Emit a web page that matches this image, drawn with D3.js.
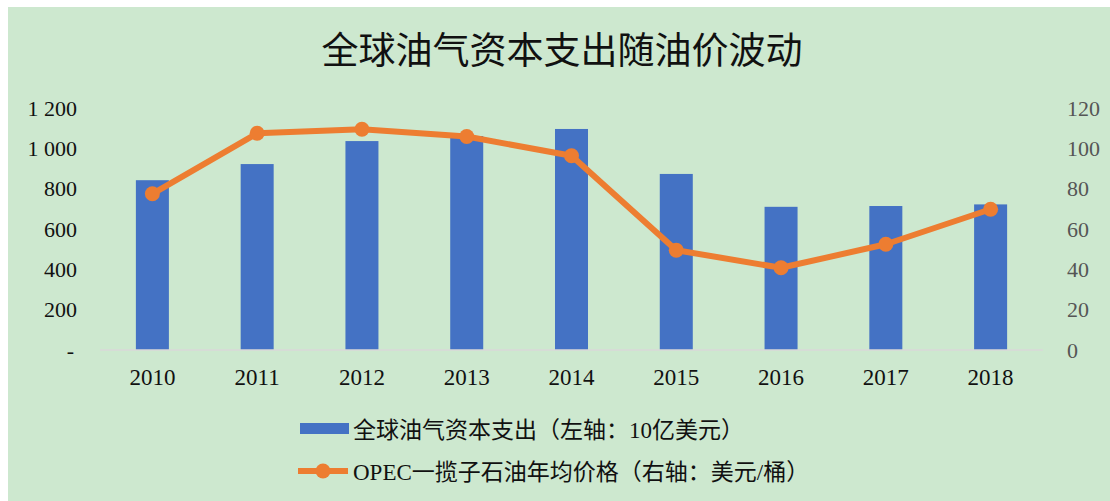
<!DOCTYPE html>
<html>
<head>
<meta charset="utf-8">
<script src="https://cdn.jsdelivr.net/npm/d3@7"></script>
<style>
  body { margin: 0; background: #fff; }
  text { font-family: "Liberation Serif", "Noto Sans CJK SC", serif; }
</style>
</head>
<body>
<div id="chart"></div>
<script>
// chart data
const years = ["2010", "2011", "2012", "2013", "2014", "2015", "2016", "2017", "2018"];
const capex = [842, 922, 1036, 1061, 1096, 873, 710, 714, 722];
const opecPrice = [77.45, 107.46, 109.45, 105.87, 96.29, 49.49, 40.76, 52.43, 69.78];
const leftTicks = [0, 200, 400, 600, 800, 1000, 1200];
const rightTicks = [0, 20, 40, 60, 80, 100, 120];
const title = "全球油气资本支出随油价波动";
const seriesNames = ["全球油气资本支出（左轴：10亿美元）", "OPEC一揽子石油年均价格（右轴：美元/桶）"];

const width = 1110, height = 501;
const blue = "#4472C4", orange = "#ED7D31";

const svg = d3.select("#chart").append("svg")
    .attr("width", width)
    .attr("height", height);

svg.append("rect")
    .attr("x", 8).attr("y", 7)
    .attr("width", width - 8).attr("height", height - 7)
    .attr("fill", "#CDE8CF");

svg.append("text")
    .attr("x", 562).attr("y", 64)
    .attr("text-anchor", "middle")
    .attr("font-size", 37)
    .attr("fill", "#111")
    .text(title);

const x = d3.scaleBand()
    .domain(years)
    .range([100, 1043])
    .paddingInner(0.685)
    .paddingOuter(0.3425);

const yL = d3.scaleLinear().domain([0, 1200]).range([350, 108]);
const yR = d3.scaleLinear().domain([0, 120]).range([350, 108]);

// left axis
const fmtLeft = d => d === 0 ? "-" : d3.format(",")(d).replace(",", " ");
svg.append("g")
    .attr("transform", "translate(80,0)")
    .call(d3.axisLeft(yL).tickValues(leftTicks).tickFormat(fmtLeft).tickSize(0))
    .call(g => g.select(".domain").remove())
    .selectAll("text")
    .attr("font-size", 22)
    .attr("fill", "#111")
    .attr("dx", d => d === 0 ? -3 : 0);

// right axis
svg.append("g")
    .attr("transform", "translate(1064,0)")
    .call(d3.axisRight(yR).tickValues(rightTicks).tickSize(0))
    .call(g => g.select(".domain").remove())
    .selectAll("text")
    .attr("font-size", 22)
    .attr("fill", "#555");

// bars
svg.selectAll(".bar")
    .data(years)
    .enter()
    .append("rect")
    .attr("class", "bar")
    .attr("x", d => x(d))
    .attr("y", (d, i) => yL(capex[i]))
    .attr("width", x.bandwidth())
    .attr("height", (d, i) => yL(0) - yL(capex[i]))
    .attr("fill", blue);

// x axis
svg.append("g")
    .attr("transform", "translate(0,350)")
    .call(d3.axisBottom(x).tickSize(0).tickPadding(19))
    .call(g => g.select(".domain").attr("stroke", "#d9d9d9").attr("stroke-width", 1.5).attr("d", "M100,0H1043"))
    .selectAll("text")
    .attr("font-size", 23)
    .attr("fill", "#111");

// oil price line
const cx = d => x(d) + x.bandwidth() / 2;
const line = d3.line()
    .x((d, i) => cx(years[i]))
    .y(d => yR(d));

svg.append("path")
    .datum(opecPrice)
    .attr("d", line)
    .attr("fill", "none")
    .attr("stroke", orange)
    .attr("stroke-width", 6)
    .attr("stroke-linejoin", "round");

svg.selectAll(".dot")
    .data(opecPrice)
    .enter()
    .append("circle")
    .attr("class", "dot")
    .attr("cx", (d, i) => cx(years[i]))
    .attr("cy", d => yR(d))
    .attr("r", 7.5)
    .attr("fill", orange);

// legend
const lg = svg.append("g");
lg.append("rect")
    .attr("x", 300).attr("y", 423)
    .attr("width", 49).attr("height", 11)
    .attr("fill", blue);
lg.append("line")
    .attr("x1", 298).attr("x2", 348)
    .attr("y1", 471).attr("y2", 471)
    .attr("stroke", orange).attr("stroke-width", 6);
lg.append("circle")
    .attr("cx", 323).attr("cy", 471).attr("r", 7.5)
    .attr("fill", orange);
lg.selectAll(".lgtext")
    .data(seriesNames)
    .enter()
    .append("text")
    .attr("x", 353)
    .attr("y", (d, i) => 438 + i * 42)
    .attr("font-size", 23)
    .attr("fill", "#111")
    .text(d => d);
</script>
</body>
</html>
